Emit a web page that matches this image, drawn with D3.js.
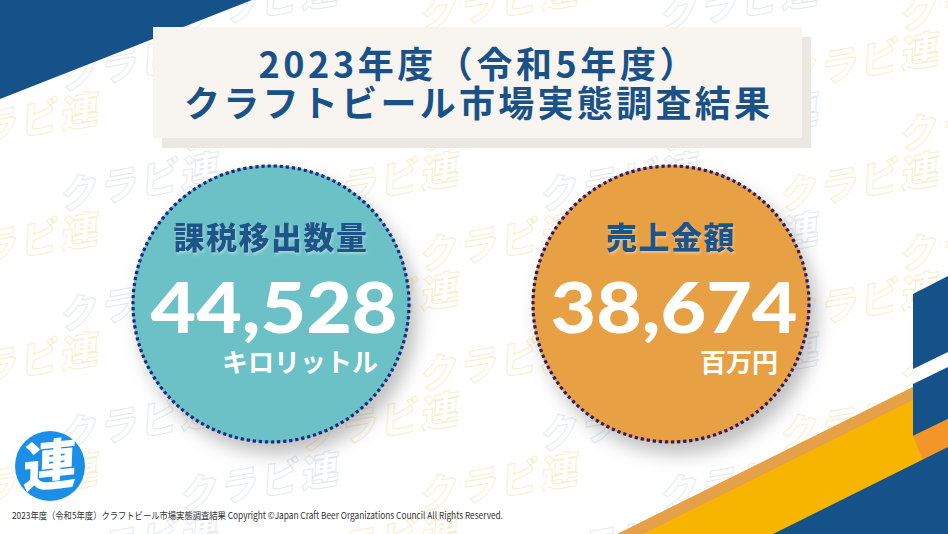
<!DOCTYPE html>
<html>
<head>
<meta charset="utf-8">
<script src="https://cdn.jsdelivr.net/npm/d3@7/dist/d3.min.js"></script>
<style>
  html, body { margin: 0; padding: 0; background: #fff; }
  svg { display: block; }
</style>
</head>
<body>
<svg id="chart" width="948" height="534"></svg>
<script>
// ---- data ----
const titleLines = ["2023年度（令和5年度）", "クラフトビール市場実態調査結果"];
const categories = ["課税移出数量", "売上金額"];
const values = [44528, 38674];
const units = ["キロリットル", "百万円"];
const fillColors = ["#6cc1c7", "#e8a044"];
const dotColors = ["#1c2a82", "#2c1a6c"];
const footerText = "2023年度（令和5年度）クラフトビール市場実態調査結果 Copyright ©Japan Craft Beer Organizations Council All Rights Reserved.";
const watermarkText = "クラビ連";

const W = 948, H = 534;
const svg = d3.select("#chart");
const defs = svg.append("defs");

const sh = defs.append("filter").attr("id", "cshadow")
  .attr("x", "-30%").attr("y", "-30%").attr("width", "160%").attr("height", "160%");
sh.append("feDropShadow").attr("dx", 7).attr("dy", 11).attr("stdDeviation", 9)
  .attr("flood-color", "#000").attr("flood-opacity", 0.25);

const lsh = defs.append("filter").attr("id", "lshadow");
lsh.append("feDropShadow").attr("dx", 1).attr("dy", 2).attr("stdDeviation", 1)
  .attr("flood-color", "#ffffff").attr("flood-opacity", 0.35);

// ---- watermark background ----
const wm = svg.append("g");
for (let r = 0; r < 10; r++) {
  const y = 30 + r * 60;
  const off = (r % 2) * 120 - 60;
  for (let c = 0; c < 6; c++) {
    const x = off + c * 240;
    const col = ((r + c) % 2 === 0) ? "#f8efcf" : "#e6eaf0";
    wm.append("text")
      .attr("transform", `translate(${x},${y}) rotate(-10) skewX(-14)`)
      .attr("font-family", "'Noto Sans CJK JP'")
      .attr("font-weight", 900)
      .attr("font-size", 38)
      .attr("letter-spacing", 3)
      .attr("fill", "none")
      .attr("stroke", col)
      .attr("stroke-width", 1)
      .text(watermarkText);
  }
}

// ---- decorative shapes ----
const deco = svg.append("g");
const poly = (pts, fill) => deco.append("polygon").attr("points", pts.map(p => p.join(",")).join(" ")).attr("fill", fill);
const NAVY = "#15528a";
poly([[0,0],[252,0],[0,99]], NAVY);
const m = 0.497;
poly([[617,534],[948,387 - m*35],[948,534]], "#e5a048");
poly([[643,534],[948,400 - m*35],[948,534]], "#f8b500");
poly([[913,294],[948,276],[948,419],[913,436]], NAVY);
poly([[913,369],[948,352],[948,367],[913,384]], "#ffffff");
poly([[913,436],[948,419],[948,449],[923,461]], "#f39528");
poly([[773,534],[948,534 - m*175],[948,534]], NAVY);

// ---- title box ----
svg.append("rect").attr("x", 162).attr("y", 37).attr("width", 649).attr("height", 111).attr("fill", "#ebe8e3");
svg.append("rect").attr("x", 153).attr("y", 27).attr("width", 649).attr("height", 111).attr("fill", "#f8f5f1");
const tl = [{t: titleLines[0], y: 78, w: 437}, {t: titleLines[1], y: 117, w: 586}];
svg.selectAll(".title").data(tl).enter().append("text")
  .attr("class", "title")
  .attr("x", 477).attr("y", d => d.y)
  .attr("text-anchor", "middle")
  .attr("font-family", "'Noto Sans CJK JP'")
  .attr("font-weight", 700)
  .attr("font-size", 36)
  .attr("fill", "#1a5288")
  .attr("textLength", d => d.w)
  .attr("lengthAdjust", "spacing")
  .text(d => d.t);

// ---- circles ----
const xScale = d3.scalePoint().domain(categories).range([271, 671]);
const cy = 304, R = 139;
const fmt = d3.format(",");
const data = categories.map((c, i) => ({c, v: values[i], u: units[i], fill: fillColors[i], dot: dotColors[i]}));

const g = svg.selectAll(".stat").data(data).enter().append("g")
  .attr("class", "stat")
  .attr("transform", d => `translate(${xScale(d.c)},${cy})`);

g.append("circle").attr("r", R).attr("fill", d => d.fill).attr("filter", "url(#cshadow)");
g.append("circle").attr("r", R - 1).attr("fill", "none")
  .attr("stroke", d => d.dot).attr("stroke-width", 3.2).attr("stroke-dasharray", "3.2 2.9");

g.append("text")
  .attr("x", 0).attr("y", -55)
  .attr("text-anchor", "middle")
  .attr("font-family", "'Noto Sans CJK JP'")
  .attr("font-weight", 900)
  .attr("font-size", 31)
  .attr("letter-spacing", 1.5)
  .attr("fill", "#1d5489")
  .attr("filter", "url(#lshadow)")
  .text(d => d.c);

g.append("text")
  .attr("x", 3).attr("y", 29)
  .attr("text-anchor", "middle")
  .attr("font-family", "Lato")
  .attr("font-weight", 900)
  .attr("font-size", 70)
  .attr("fill", "#ffffff")
  .attr("textLength", 247)
  .attr("lengthAdjust", "spacingAndGlyphs")
  .text(d => fmt(d.v));

g.append("text")
  .attr("x", 107).attr("y", 68)
  .attr("text-anchor", "end")
  .attr("font-family", "'Noto Sans CJK JP'")
  .attr("font-weight", 700)
  .attr("font-size", 26)
  .attr("fill", "#ffffff")
  .text(d => d.u);

// ---- logo ----
const logo = svg.append("g").attr("transform", "translate(50,466)");
logo.append("circle").attr("r", 35).attr("fill", "#1b8fe8");
logo.append("text")
  .attr("transform", "rotate(-6) skewX(-8)")
  .attr("y", 19)
  .attr("text-anchor", "middle")
  .attr("font-family", "'Noto Sans CJK JP'")
  .attr("font-weight", 900)
  .attr("font-size", 54)
  .attr("fill", "#ffffff")
  .text("連");

// ---- footer ----
svg.append("text")
  .attr("x", 12).attr("y", 519)
  .attr("font-family", "'Noto Sans CJK JP'")
  .attr("font-size", 9.5)
  .attr("fill", "#333333")
  .attr("textLength", 491)
  .attr("lengthAdjust", "spacingAndGlyphs")
  .text(footerText);
</script>
</body>
</html>
